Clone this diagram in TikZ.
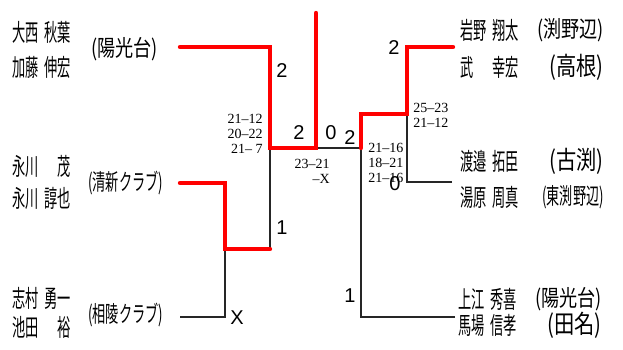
\documentclass[tikz,border=0pt]{standalone}
\usepackage{fontspec}
\setmainfont{Liberation Serif}
\newfontfamily\plyfont[FakeStretch=0.55]{Noto Sans CJK JP}
\newfontfamily\clubfont[FakeStretch=0.8]{Noto Sans CJK JP}
\newfontfamily\clubnarrow[FakeStretch=0.58]{Noto Sans CJK JP}
\newfontfamily\resfont{Liberation Sans}
% 選手名: 姓は左寄せ, 名は右寄せ
\newcommand{\pname}[2]{\makebox[44pt][l]{#1\hfill #2}}

\begin{document}
\begin{tikzpicture}[x=0.75pt, y=-0.75pt,
    player/.style={anchor=west, inner sep=0pt, font={\plyfont\fontsize{18}{20}\selectfont}},
    team/.style={inner sep=0pt, font={\clubfont\fontsize{17}{19}\selectfont}},
    teamnarrow/.style={inner sep=0pt, font={\clubnarrow\fontsize{17}{19}\selectfont}},
    teambig/.style={inner sep=0pt, font={\clubfont\fontsize{19}{21}\selectfont}},
    res/.style={inner sep=0pt, font={\resfont\fontsize{15}{17}\selectfont}},
    score/.style={inner sep=0pt, font=\fontsize{10.5}{11.3}\selectfont},
    win/.style={red, line width=3.3pt, line cap=round},
    lose/.style={black!85, line width=0.9pt}]

    % --- 枠 ---
    \useasboundingbox (0,0) rectangle (623,349);

    % --- 左ブロック: 選手 ---
    \node[player] (p1a) at (12,32) {\pname{大西}{秋葉}};
    \node[player] (p1b) at (12,67) {\pname{加藤}{伸宏}};
    \node[team, anchor=west] (t1) at (91,49) {(陽光台)};
    \node[player] (p2a) at (12,166) {\pname{永川}{茂}};
    \node[player] (p2b) at (12,198) {\pname{永川}{諄也}};
    \node[teamnarrow, anchor=west] (t2) at (88,183) {(清新クラブ)};
    \node[player] (p3a) at (12,298) {\pname{志村}{勇一}};
    \node[player] (p3b) at (12,327) {\pname{池田}{裕}};
    \node[teamnarrow, anchor=west] (t3) at (88,315) {(相陵クラブ)};

    % --- 右ブロック: 選手 ---
    \node[player] (q1a) at (460,30) {\pname{岩野}{翔太}};
    \node[player] (q1b) at (460,67) {\pname{武}{幸宏}};
    \node[team, anchor=east] (u1a) at (604,30) {(渕野辺)};
    \node[teambig, anchor=east] (u1b) at (604,67) {(高根)};
    \node[player] (q2a) at (460,161) {\pname{渡邉}{拓臣}};
    \node[player] (q2b) at (460,197) {\pname{湯原}{周真}};
    \node[teambig, anchor=east] (u2a) at (604,161) {(古渕)};
    \node[teamnarrow, anchor=east] (u2b) at (604,197) {(東渕野辺)};
    \node[player] (q3a) at (458,299) {\pname{上江}{秀喜}};
    \node[player] (q3b) at (458,325) {\pname{馬場}{信孝}};
    \node[team, anchor=east] (u3a) at (602,299) {(陽光台)};
    \node[teambig, anchor=east] (u3b) at (602,325) {(田名)};

    % --- 組合せの点 ---
    \coordinate (a1) at (180,47);
    \coordinate (a2) at (270,47);
    \coordinate (b1) at (180,183);
    \coordinate (b2) at (225,183);
    \coordinate (b3) at (225,249);
    \coordinate (b4) at (270,249);
    \coordinate (c1) at (180,317);
    \coordinate (c2) at (225,317);
    \coordinate (sl) at (270,148);
    \coordinate (fl) at (316,148);
    \coordinate (top) at (316,13);
    \coordinate (fr) at (361,148);
    \coordinate (d1) at (453,47);
    \coordinate (d2) at (407,47);
    \coordinate (d3) at (407,114);
    \coordinate (d4) at (361,114);
    \coordinate (e1) at (452,182);
    \coordinate (e2) at (407,182);
    \coordinate (g1) at (455,317);
    \coordinate (g2) at (361,317);

    % 負け側 (黒線)
    \draw[lose] (c1) -- (c2) -- (b3);
    \draw[lose] (b4) -- (sl);
    \draw[lose] (fl) -- (fr);
    \draw[lose] (e1) -- (e2) -- (d3);
    \draw[lose] (g1) -- (g2) -- (fr);

    % 勝ち上がり (赤線)
    \draw[win] (a1) -- (a2) -- (sl) -- (fl) -- (top);
    \draw[win] (b1) -- (b2) -- (b3) -- (b4);
    \draw[win] (d1) -- (d2) -- (d3) -- (d4) -- (fr);

    % --- 勝敗 ---
    \node[res] (r1) at (282,71) {2};
    \node[res] (r2) at (282,228) {1};
    \node[res] (r3) at (237,318) {X};
    \node[res] (r4) at (299,133) {2};
    \node[res] (r5) at (331,133) {0};
    \node[res] (r6) at (350,138) {2};
    \node[res] (r7) at (394,48) {2};
    \node[res] (r8) at (395,184) {0};
    \node[res] (r9) at (350,296) {1};

    % --- スコア ---
    \node[score, anchor=east, align=right] (s1) at (263,134) {21–12\\20–22\\21– 7};
    \node[score, anchor=east, align=right] (s2) at (330,171) {23–21\\–X};
    \node[score, anchor=west, align=left] (s3) at (413,115) {25–23\\21–12};
    \node[score, anchor=west, align=left] (s4) at (368,163) {21–16\\18–21\\21–16};

\end{tikzpicture}
\end{document}
